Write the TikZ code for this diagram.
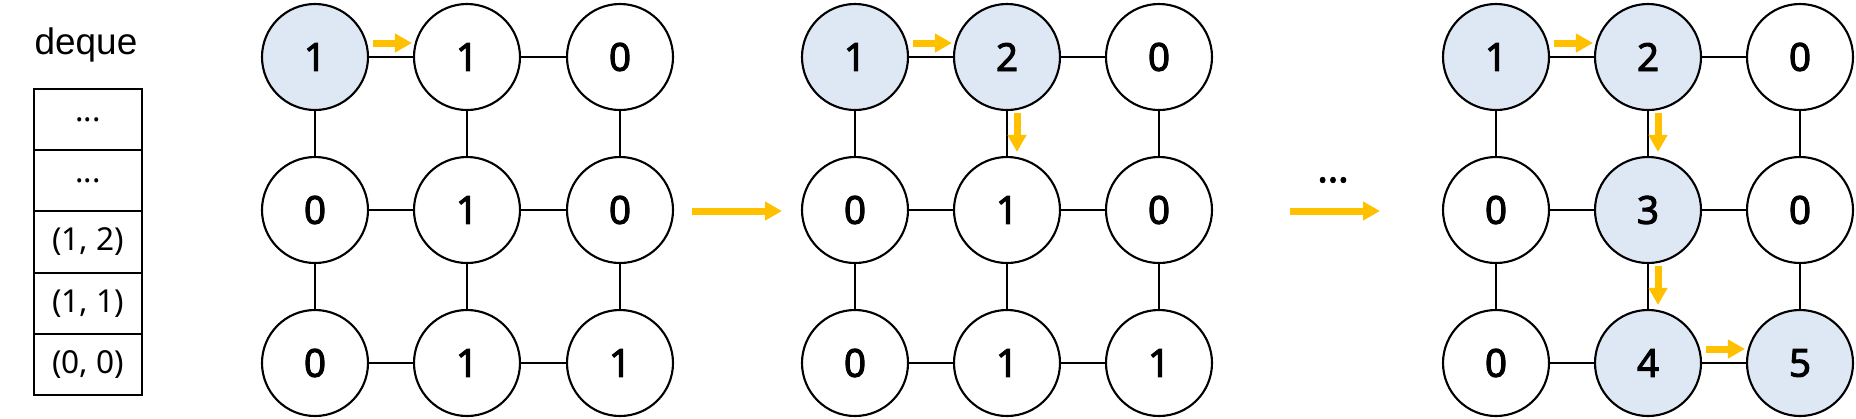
\documentclass[tikz,border=0pt]{standalone}
\usepackage{fontspec}
\setmainfont{Noto Sans}
\newfontfamily\cellfont{Noto Sans}[FakeBold=2.5]
\newfontfamily\titlefont{Liberation Sans}
\usetikzlibrary{arrows.meta}
\definecolor{visited}{HTML}{DEE8F4}
\definecolor{pathgold}{HTML}{FFC000}

\begin{document}
\begin{tikzpicture}[every node/.style={font=\cellfont\fontsize{11}{13}\selectfont},
                    cell/.style={circle, draw, line width=0.6pt, minimum size=1.06cm, inner sep=0pt},
                    seen/.style={cell, fill=visited},
                    slot/.style={draw, line width=0.6pt, minimum width=1.08cm, minimum height=0.612cm,
                                 inner sep=0pt, font=\normalfont\fontsize{9}{11}\selectfont},
                    walk/.style={draw=pathgold, line width=0.07cm, -{Triangle[length=1.7mm,width=1.8mm]}},
                    link/.style={line width=0.6pt}]
\useasboundingbox (0,0) rectangle (18.56,-4.18);

% deque
\node[font=\titlefont\fontsize{10.5}{12}\selectfont] (title) at (0.86,-0.45) {deque};
\node[slot] (q1) at (0.88,-1.196) {...};
\node[slot] (q2) at (0.88,-1.808) {...};
\node[slot] (q3) at (0.88,-2.420) {(1, 2)};
\node[slot] (q4) at (0.88,-3.032) {(1, 1)};
\node[slot] (q5) at (0.88,-3.644) {(0, 0)};

% first grid
\node[seen] (a11) at (3.15,-0.57) {1};
\node[cell] (a12) at (4.67,-0.57) {1};
\node[cell] (a13) at (6.20,-0.57) {0};
\node[cell] (a21) at (3.15,-2.10) {0};
\node[cell] (a22) at (4.67,-2.10) {1};
\node[cell] (a23) at (6.20,-2.10) {0};
\node[cell] (a31) at (3.15,-3.63) {0};
\node[cell] (a32) at (4.67,-3.63) {1};
\node[cell] (a33) at (6.20,-3.63) {1};
\draw[link] (a11) -- (a12) -- (a13);
\draw[link] (a21) -- (a22) -- (a23);
\draw[link] (a31) -- (a32) -- (a33);
\draw[link] (a11) -- (a21) -- (a31);
\draw[link] (a12) -- (a22) -- (a32);
\draw[link] (a13) -- (a23) -- (a33);
\draw[walk] ([xshift=0.04cm,yshift=0.14cm]a11.east) -- ([xshift=-0.01cm,yshift=0.14cm]a12.west);

% second grid
\node[seen] (b11) at (8.55,-0.57) {1};
\node[seen] (b12) at (10.07,-0.57) {2};
\node[cell] (b13) at (11.59,-0.57) {0};
\node[cell] (b21) at (8.55,-2.10) {0};
\node[cell] (b22) at (10.07,-2.10) {1};
\node[cell] (b23) at (11.59,-2.10) {0};
\node[cell] (b31) at (8.55,-3.63) {0};
\node[cell] (b32) at (10.07,-3.63) {1};
\node[cell] (b33) at (11.59,-3.63) {1};
\draw[link] (b11) -- (b12) -- (b13);
\draw[link] (b21) -- (b22) -- (b23);
\draw[link] (b31) -- (b32) -- (b33);
\draw[link] (b11) -- (b21) -- (b31);
\draw[link] (b12) -- (b22) -- (b32);
\draw[link] (b13) -- (b23) -- (b33);
\draw[walk] ([xshift=0.04cm,yshift=0.14cm]b11.east) -- ([xshift=-0.01cm,yshift=0.14cm]b12.west);
\draw[walk] ([xshift=0.10cm,yshift=-0.02cm]b12.south) -- ([xshift=0.10cm,yshift=0.04cm]b22.north);

% third grid
\node[seen] (c11) at (14.96,-0.57) {1};
\node[seen] (c12) at (16.48,-0.57) {2};
\node[cell] (c13) at (18.00,-0.57) {0};
\node[cell] (c21) at (14.96,-2.10) {0};
\node[seen] (c22) at (16.48,-2.10) {3};
\node[cell] (c23) at (18.00,-2.10) {0};
\node[cell] (c31) at (14.96,-3.63) {0};
\node[seen] (c32) at (16.48,-3.63) {4};
\node[seen] (c33) at (18.00,-3.63) {5};
\draw[link] (c11) -- (c12) -- (c13);
\draw[link] (c21) -- (c22) -- (c23);
\draw[link] (c31) -- (c32) -- (c33);
\draw[link] (c11) -- (c21) -- (c31);
\draw[link] (c12) -- (c22) -- (c32);
\draw[link] (c13) -- (c23) -- (c33);
\draw[walk] ([xshift=0.04cm,yshift=0.14cm]c11.east) -- ([xshift=-0.01cm,yshift=0.14cm]c12.west);
\draw[walk] ([xshift=0.10cm,yshift=-0.02cm]c12.south) -- ([xshift=0.10cm,yshift=0.04cm]c22.north);
\draw[walk] ([xshift=0.10cm,yshift=-0.02cm]c22.south) -- ([xshift=0.10cm,yshift=0.04cm]c32.north);
\draw[walk] ([xshift=0.04cm,yshift=0.14cm]c32.east) -- ([xshift=-0.01cm,yshift=0.14cm]c33.west);

% steps between grids
\coordinate (s1) at (6.92,-2.11);
\coordinate (e1) at (7.82,-2.11);
\coordinate (s2) at (12.90,-2.11);
\coordinate (e2) at (13.80,-2.11);
\draw[walk] (s1) -- (e1);
\draw[walk] (s2) -- (e2);
\node (more) at (13.33,-1.80) {...};
\end{tikzpicture}
\end{document}
